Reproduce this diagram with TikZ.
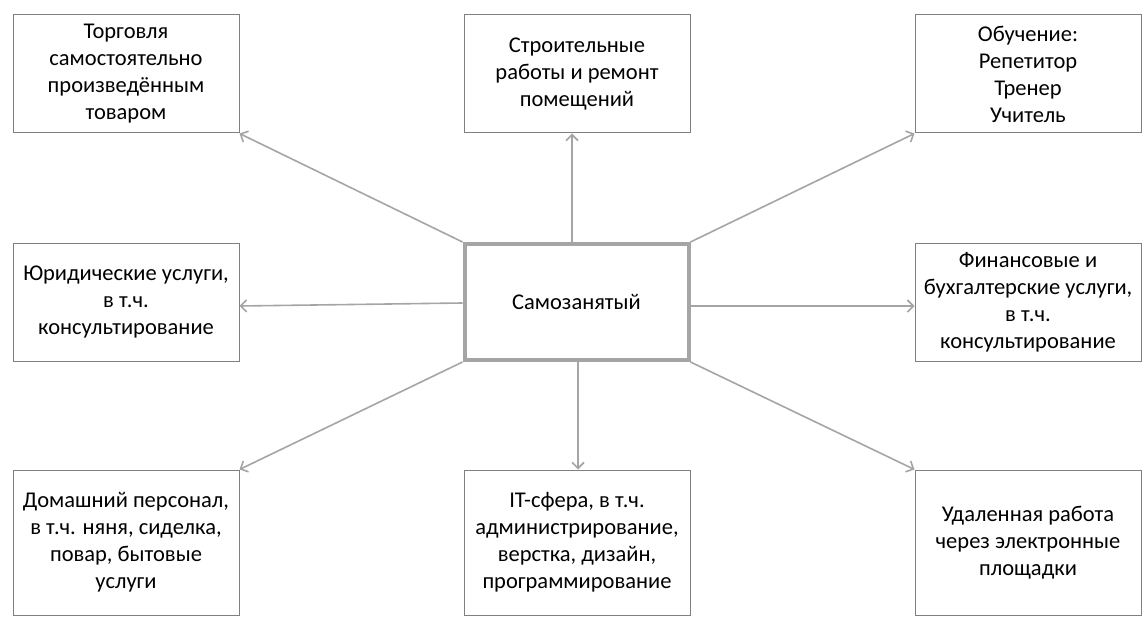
\documentclass[tikz,border=0pt]{standalone}
\usepackage{fontspec}
\setmainfont{Carlito}
\usetikzlibrary{arrows.meta}
\definecolor{bx}{RGB}{128,128,128}
\definecolor{ar}{RGB}{165,165,165}
\begin{document}
\begin{tikzpicture}[x=1pt,y=-1pt,
  box/.style={draw=bx,line width=1pt,align=center,font=\fontsize{22.5}{27}\selectfont,minimum width=226pt,inner sep=0pt},
  conn/.style={draw=ar,line width=1.6pt,-{Straight Barb[length=6pt,width=12pt]}}]
\useasboundingbox (0,0) rectangle (1148,623);
\node[box,minimum height=118pt] (tl) at (126,74) {Торговля\\самостоятельно\\произведённым\\товаром};
\node[box,minimum height=118pt] (tc) at (577,74) {Строительные\\работы и ремонт\\помещений};
\node[box,minimum height=118pt] (tr) at (1028,74) {Обучение:\\Репетитор\\Тренер\\Учитель};
\node[box,minimum height=118pt] (ml) at (126,302) {Юридические услуги,\\в т.ч.\\консультирование};
\node[box,draw=ar,line width=4pt,minimum width=224pt,minimum height=116pt] (c) at (576.5,302) {Самозанятый};
\node[box,minimum height=118pt] (mr) at (1028,302) {Финансовые и\\бухгалтерские услуги,\\в т.ч.\\консультирование};
\node[box,minimum height=145pt] (bl) at (126,542.5) {Домашний персонал,\\в т.ч. няня, сиделка,\\повар, бытовые\\услуги};
\node[box,minimum height=145pt] (bc) at (577,542.5) {IT-сфера, в т.ч.\\администрирование,\\верстка, дизайн,\\программирование};
\node[box,minimum height=145pt] (br) at (1028,542.5) {Удаленная работа\\через электронные\\площадки};
\path[conn] (c.north west) -- (tl.south east);
\path[conn] (c.north -| tc.south) ++(-5,0) -- ([xshift=-5pt]tc.south);
\path[conn] (c.north east) -- (tr.south west);
\path[conn] ([yshift=-1pt]c.west) -- ([yshift=-4pt]ml.east);
\path[conn] ([yshift=-4pt]c.east) -- ([yshift=-4pt]mr.west);
\path[conn] (c.south west) -- (bl.north east);
\path[conn] ([xshift=1.5pt]c.south) -- ([xshift=1pt]bc.north);
\path[conn] (c.south east) -- (br.north west);
\end{tikzpicture}
\end{document}
